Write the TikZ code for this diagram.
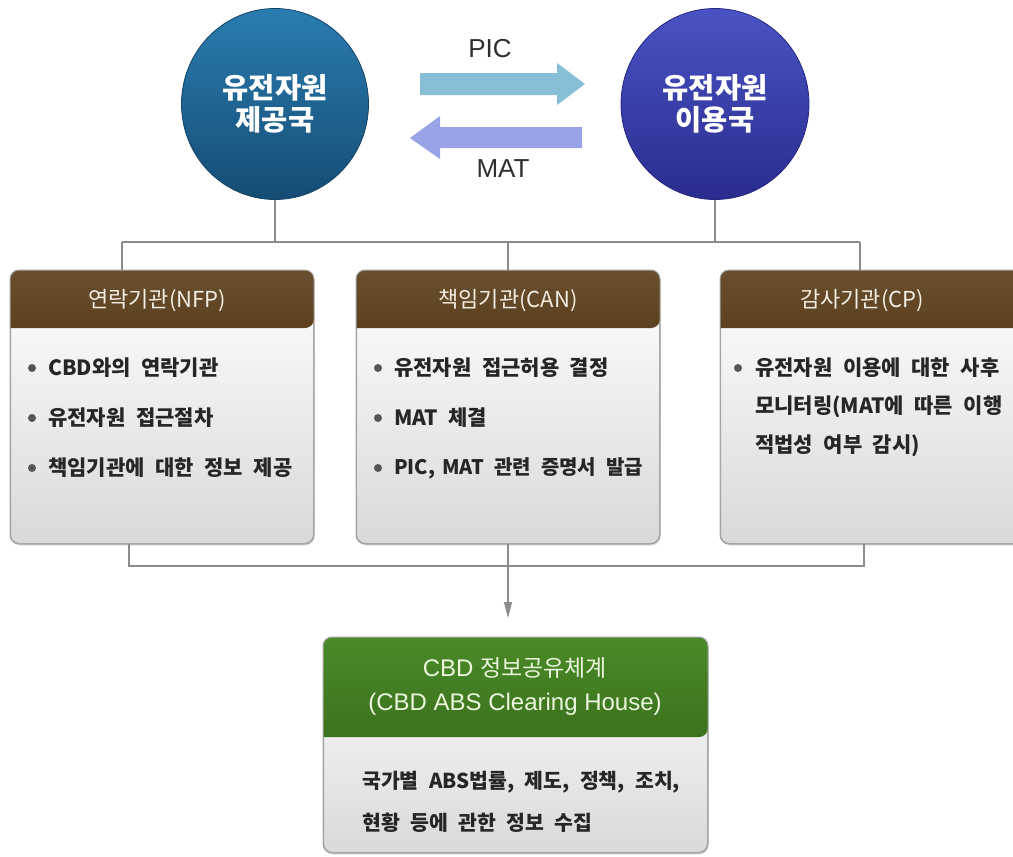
\documentclass[tikz,border=0pt]{standalone}
\usepackage{fontspec}
\setmainfont{Liberation Sans}
\newfontfamily\kr{Noto Sans CJK KR}
\newfontfamily\kritem{Noto Sans CJK KR}[WordSpace=1.5]
\newfontfamily\krbody{Noto Sans CJK KR}[WordSpace=2.2]
\usetikzlibrary{shapes.geometric,arrows.meta,shadows}
\definecolor{provTop}{HTML}{2A7DB0}
\definecolor{provBot}{HTML}{154C74}
\definecolor{provEdge}{HTML}{134466}
\definecolor{consTop}{HTML}{4A53C4}
\definecolor{consBot}{HTML}{2A2C8E}
\definecolor{consEdge}{HTML}{262880}
\definecolor{picC}{HTML}{88BFD6}
\definecolor{matC}{HTML}{9AA2E8}
\definecolor{brTop}{HTML}{6A4F2E}
\definecolor{brMid}{HTML}{7D6038}
\definecolor{brBot}{HTML}{5C4121}
\definecolor{grTop}{HTML}{4A8A28}
\definecolor{grBot}{HTML}{3B721E}
\definecolor{hdrtxt}{HTML}{F3ECE0}
\definecolor{grtxt}{HTML}{EAF6DC}
\definecolor{bodybot}{HTML}{D9D9D9}
\definecolor{boxborder}{HTML}{A5A5A5}
\definecolor{itemtxt}{HTML}{262626}
\definecolor{bulletc}{HTML}{555555}
\definecolor{linegray}{HTML}{8C8C8C}
\definecolor{labeltxt}{HTML}{2E2E2E}
\begin{document}
\begin{tikzpicture}[x=1pt,y=-1pt,
  conn/.style={draw=linegray, line width=1.3pt},
  bodybox/.style={rectangle, rounded corners=9pt, draw=boxborder, line width=1pt,
    top color=white, bottom color=bodybot, anchor=north west, inner sep=0pt,
    drop shadow={opacity=0.25, shadow xshift=1pt, shadow yshift=-2pt}},
  borderline/.style={draw=boxborder, line width=1pt, rounded corners=9pt},
  brownhdr/.style={top color=brTop, middle color=brMid, bottom color=brBot},
  greenhdr/.style={top color=grTop, bottom color=grBot},
  hdrtext/.style={font=\kr\fontsize{22}{24}\selectfont, text=hdrtxt, inner sep=0pt},
  grtext/.style={font=\fontsize{24}{34}\selectfont, text=grtxt, inner sep=0pt, align=center},
  itemtext/.style={font=\kritem\bfseries\fontsize{21}{23}\selectfont, text=itemtxt, anchor=west, inner sep=0pt},
  itemnarrow/.style={font=\kritem\bfseries\fontsize{20}{23}\selectfont},
  bodytext/.style={font=\krbody\bfseries\fontsize{20.5}{24}\selectfont, text=itemtxt, anchor=west, inner sep=0pt},
  ctext/.style={font=\kr\bfseries\fontsize{28.5}{32}\selectfont, text=white, align=center},
  label/.style={font=\fontsize{26}{28}\selectfont, text=labeltxt, inner sep=0pt},
  bulletdot/.style={fill=bulletc},
]
\useasboundingbox (0,0) rectangle (1013,857);

% circles
\node[ellipse, minimum width=187pt, minimum height=191pt, top color=provTop, bottom color=provBot,
  draw=provEdge, line width=0.8pt, ctext] (prov) at (275,104) {유전자원\\제공국};
\node[ellipse, minimum width=188pt, minimum height=191pt, top color=consTop, bottom color=consBot,
  draw=consEdge, line width=0.8pt, ctext] (cons) at (715,104) {유전자원\\이용국};

% PIC / MAT arrows
\fill[picC] (420,73) -- (557,73) -- (557,63) -- (585,84) -- (557,105) -- (557,95) -- (420,95) -- cycle;
\fill[matC] (582,127) -- (440,127) -- (440,116) -- (410,138) -- (440,159) -- (440,148) -- (582,148) -- cycle;
\node[label] (pic) at (490,49) {PIC};
\node[label] (mat) at (503,169) {MAT};

% boxes
\node[bodybox, minimum width=303pt, minimum height=273pt] (nfp) at (10,270) {};
\node[bodybox, minimum width=303pt, minimum height=273pt] (can) at (356,270) {};
\node[bodybox, minimum width=303pt, minimum height=273pt] (cp) at (720,270) {};
\node[bodybox, minimum width=384pt, minimum height=215pt] (chs) at (323,637) {};

\foreach \b in {nfp,can,cp}{
  \shade[brownhdr] ([yshift=-58pt]\b.north west) [rounded corners=9pt] |- (\b.north) -| ([yshift=-58pt]\b.north east) [sharp corners] -- cycle;
  \draw[borderline] (\b.north west) rectangle (\b.south east);
}
\shade[greenhdr] ([yshift=-100pt]chs.north west) [rounded corners=9pt] |- (chs.north) -| ([yshift=-100pt]chs.north east) [sharp corners] -- cycle;
\draw[borderline] (chs.north west) rectangle (chs.south east);

% header texts
\node[hdrtext] (nfph) at (157,301) {연락기관(NFP)};
\node[hdrtext] (canh) at (508,301) {책임기관(CAN)};
\node[hdrtext] (cph) at (862,301) {감사기관(CP)};
\node[grtext] (chsh) at (515,686) {CBD {\kr\fontsize{23}{34}\selectfont 정보공유체계}\\(CBD ABS Clearing House)};

% items
\fill[bulletdot] (32,368) circle (4pt);
\fill[bulletdot] (32,418) circle (4pt);
\fill[bulletdot] (32,468) circle (4pt);
\node[itemtext] (n1) at (48,368) {CBD와의 연락기관};
\node[itemtext] (n2) at (48,418) {유전자원 접근절차};
\node[itemtext] (n3) at (48,468) {책임기관에 대한 정보 제공};

\fill[bulletdot] (378,368) circle (4pt);
\fill[bulletdot] (378,418) circle (4pt);
\fill[bulletdot] (378,468) circle (4pt);
\node[itemtext] (c1) at (394,368) {유전자원 접근허용 결정};
\node[itemtext] (c2) at (394,418) {MAT 체결};
\node[itemtext, itemnarrow] (c3) at (394,468) {PIC,\hspace{-3pt} MAT 관련 증명서 발급};

\fill[bulletdot] (738,368) circle (4pt);
\node[itemtext] (p1) at (755,368) {유전자원 이용에 대한 사후};
\node[itemtext] (p2) at (755,407) {모니터링(MAT에 따른 이행};
\node[itemtext] (p3) at (755,446) {적법성 여부 감시)};

\node[bodytext] (g1) at (362,782) {국가별 ABS법률, 제도, 정책, 조치,};
\node[bodytext] (g2) at (362,823) {현황 등에 관한 정보 수집};

% connectors
\coordinate (topL) at (122,242);
\coordinate (topR) at (860,242);
\coordinate (botL) at (129,566);
\coordinate (botR) at (864,566);
\coordinate (tip) at (can.south |- 0,618);
\draw[conn] (topL) -- (topR);
\draw[conn] (prov.south) -- (prov.south |- topL);
\draw[conn] (cons.south) -- (cons.south |- topL);
\draw[conn] (topL) -- (topL |- nfp.north);
\draw[conn] (can.north |- topL) -- (can.north);
\draw[conn] (topR) -- (topR |- cp.north);
\draw[conn] (botL |- nfp.south) -- (botL) -- (botR) -- (botR |- cp.south);
\draw[conn] (can.south) -- (can.south |- botL);
\draw[conn, -{Triangle[length=16pt,width=8pt]}] (can.south |- botL) -- (tip);
\end{tikzpicture}
\end{document}
